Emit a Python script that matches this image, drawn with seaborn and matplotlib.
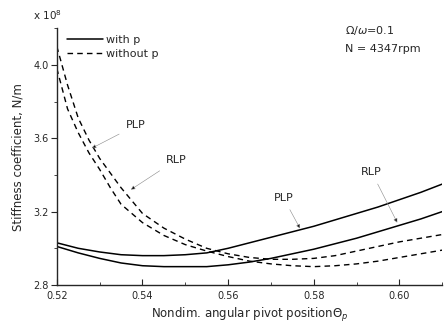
import numpy as np
import pandas as pd
import matplotlib
matplotlib.use("Agg")
import matplotlib.pyplot as plt
import seaborn as sns
from matplotlib.ticker import MultipleLocator, FormatStrFormatter
from matplotlib.lines import Line2D

# ---- data ----
x_solid = [0.52, 0.525, 0.53, 0.535, 0.54, 0.545, 0.55, 0.555, 0.56, 0.565,
           0.57, 0.575, 0.58, 0.585, 0.59, 0.595, 0.60, 0.605, 0.61]
with_p_plp = [3.03, 3.00, 2.98, 2.965, 2.96, 2.96, 2.965, 2.975, 3.00, 3.03,
              3.06, 3.09, 3.12, 3.155, 3.19, 3.225, 3.265, 3.305, 3.35]
with_p_rlp = [3.01, 2.975, 2.945, 2.92, 2.905, 2.90, 2.90, 2.90, 2.91, 2.925,
              2.945, 2.97, 2.995, 3.025, 3.055, 3.09, 3.125, 3.16, 3.20]

x_dash = [0.52, 0.5225, 0.525, 0.5275, 0.53, 0.5325, 0.535, 0.54, 0.545, 0.55,
          0.555, 0.56, 0.565, 0.57, 0.575, 0.58, 0.585, 0.59, 0.595, 0.60,
          0.605, 0.61]
without_p_plp = [4.10, 3.89, 3.71, 3.59, 3.49, 3.41, 3.33, 3.19, 3.11, 3.05,
                 3.00, 2.97, 2.95, 2.94, 2.94, 2.945, 2.96, 2.985, 3.01, 3.035,
                 3.055, 3.075]
without_p_rlp = [3.98, 3.76, 3.63, 3.52, 3.43, 3.33, 3.24, 3.14, 3.07, 3.02,
                 2.985, 2.955, 2.93, 2.915, 2.905, 2.90, 2.905, 2.915, 2.93, 2.95,
                 2.97, 2.99]

x_ticks = [0.52, 0.54, 0.56, 0.58, 0.60]
y_ticks = [2.8, 3.2, 3.6, 4.0]

sns.set_style("ticks")
plt.rcParams['font.family'] = ['DejaVu Sans']

fig = plt.figure(figsize=(4.44, 3.31), dpi=100)
ax = fig.add_axes([0.128, 0.139, 0.868, 0.776])

lw_s = 1.1
lw_d = 1.0
dash = (0, (4, 3))
sns.lineplot(x=x_solid, y=with_p_plp, ax=ax, color='black', lw=lw_s)
sns.lineplot(x=x_solid, y=with_p_rlp, ax=ax, color='black', lw=lw_s)
sns.lineplot(x=x_dash, y=without_p_plp, ax=ax, color='black', lw=lw_d, linestyle=dash)
sns.lineplot(x=x_dash, y=without_p_rlp, ax=ax, color='black', lw=lw_d, linestyle=dash)

ax.set_xlim(0.52, 0.61)
ax.set_ylim(2.8, 4.2)
ax.set_xticks(x_ticks)
ax.set_yticks(y_ticks)
ax.xaxis.set_major_formatter(FormatStrFormatter('%.2f'))
ax.yaxis.set_major_formatter(FormatStrFormatter('%.1f'))
ax.xaxis.set_minor_locator(MultipleLocator(0.01))
ax.yaxis.set_minor_locator(MultipleLocator(0.2))
ax.tick_params(axis='x', which='both', direction='in', labelsize=7, pad=4)
ax.tick_params(axis='y', which='both', direction='out', labelsize=7, pad=2)
ax.tick_params(which='major', length=4, width=0.8)
ax.tick_params(which='minor', length=2.5, width=0.6)
sns.despine(ax=ax)
for s in ['left', 'bottom']:
    ax.spines[s].set_linewidth(1.0)

ax.set_xlabel('Nondim. angular pivot position$\\Theta_p$', fontsize=8.5, labelpad=4)
ax.set_ylabel('Stiffness coefficient, N/m', fontsize=8.5, labelpad=6)

handles = [Line2D([], [], color='black', lw=lw_s),
           Line2D([], [], color='black', lw=lw_d, linestyle=dash)]
ax.legend(handles, ['with p', 'without p'], loc='upper left', frameon=False,
          fontsize=8, handlelength=3.2, handletextpad=0.3, borderaxespad=0.2,
          bbox_to_anchor=(0.01, 1.0), labelspacing=0.4)

fig.text(0.075, 0.955, 'x 10$^8$', fontsize=7.5, ha='left', va='center')
ax.text(0.748, 0.99, '$\\Omega/\\omega$=0.1', transform=ax.transAxes, fontsize=8,
        ha='left', va='center')
ax.text(0.748, 0.92, 'N = 4347rpm', transform=ax.transAxes, fontsize=8,
        ha='left', va='center')

arrow = dict(arrowstyle='-|>', color='#888888', lw=0.4, mutation_scale=6,
             shrinkA=3, shrinkB=0, fc='black', ec='#888888')
ax.annotate('PLP', xy=(0.5282, 3.546), xytext=(0.5385, 3.67), fontsize=8,
            ha='center', va='center', arrowprops=arrow)
ax.annotate('RLP', xy=(0.5373, 3.32), xytext=(0.5478, 3.48), fontsize=8,
            ha='center', va='center', arrowprops=arrow)
ax.annotate('PLP', xy=(0.5768, 3.108), xytext=(0.5729, 3.276), fontsize=8,
            ha='center', va='center', arrowprops=arrow)
ax.annotate('RLP', xy=(0.5995, 3.14), xytext=(0.5935, 3.416), fontsize=8,
            ha='center', va='center', arrowprops=arrow)

fig.savefig('out.png', dpi=100)
